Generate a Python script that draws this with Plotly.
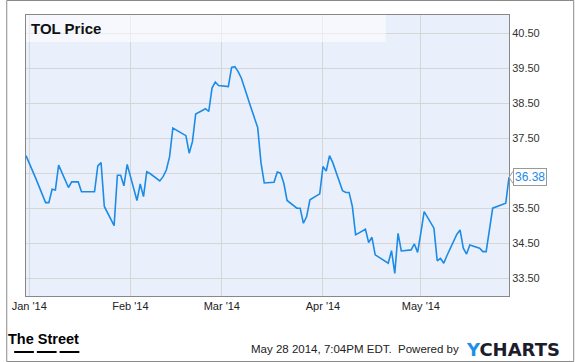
import plotly.graph_objects as go

dates = [
    "2013-12-31", "2014-01-02", "2014-01-03", "2014-01-06", "2014-01-07", "2014-01-08", "2014-01-09", "2014-01-10",
    "2014-01-13", "2014-01-14", "2014-01-15", "2014-01-16", "2014-01-17",
    "2014-01-21", "2014-01-22", "2014-01-23", "2014-01-24",
    "2014-01-27", "2014-01-28", "2014-01-29", "2014-01-30", "2014-01-31",
    "2014-02-03", "2014-02-04", "2014-02-05", "2014-02-06", "2014-02-07",
    "2014-02-10", "2014-02-11", "2014-02-12", "2014-02-13", "2014-02-14",
    "2014-02-18", "2014-02-19", "2014-02-20", "2014-02-21",
    "2014-02-24", "2014-02-25", "2014-02-26", "2014-02-27", "2014-02-28",
    "2014-03-03", "2014-03-04", "2014-03-05", "2014-03-06", "2014-03-07",
    "2014-03-10", "2014-03-11", "2014-03-12", "2014-03-13", "2014-03-14",
    "2014-03-17", "2014-03-18", "2014-03-19", "2014-03-20", "2014-03-21",
    "2014-03-24", "2014-03-25", "2014-03-26", "2014-03-27", "2014-03-28",
    "2014-03-31", "2014-04-01", "2014-04-02", "2014-04-03", "2014-04-04",
    "2014-04-07", "2014-04-08", "2014-04-09", "2014-04-10", "2014-04-11",
    "2014-04-14", "2014-04-15", "2014-04-16", "2014-04-17",
    "2014-04-21", "2014-04-22", "2014-04-23", "2014-04-24", "2014-04-25",
    "2014-04-28", "2014-04-29", "2014-04-30", "2014-05-01", "2014-05-02",
    "2014-05-05", "2014-05-06", "2014-05-07", "2014-05-08", "2014-05-09",
    "2014-05-12", "2014-05-13", "2014-05-14", "2014-05-15", "2014-05-16",
    "2014-05-19", "2014-05-20", "2014-05-21", "2014-05-22", "2014-05-23",
    "2014-05-27", "2014-05-28",
]
prices = [
    37.00, 36.59, 36.35, 35.66, 35.66, 36.04, 36.02, 36.73,
    36.09, 36.25, 36.25, 36.25, 35.97,
    35.97, 36.71, 36.80, 35.55,
    35.00, 36.44, 36.44, 36.14, 36.75,
    35.72, 36.19, 35.83, 36.54, 36.49,
    36.28, 36.40, 36.59, 36.97, 37.79,
    37.57, 37.07, 37.40, 38.19,
    38.34, 38.26, 38.93, 39.10, 39.00,
    38.97, 39.52, 39.54, 39.40, 39.21,
    38.35, 38.10, 37.80, 36.80, 36.22,
    36.24, 36.53, 36.50, 36.21, 35.72,
    35.50, 35.50, 35.07, 35.26, 35.74,
    35.91, 36.69, 36.56, 37.00, 36.80,
    36.00, 35.95, 35.95, 35.55, 34.74,
    34.90, 34.52, 34.67, 34.17,
    33.93, 34.29, 33.64, 34.78, 34.28,
    34.31, 34.48, 34.24, 34.80, 35.40,
    34.93, 34.00, 34.07, 33.93, 34.15,
    34.75, 34.88, 34.36, 34.19, 34.45,
    34.36, 34.26, 34.26, 34.85, 35.50,
    35.64, 36.38,
]

y_ticks = [33.5, 34.5, 35.5, 36.5, 37.5, 38.5, 39.5, 40.5]
y_tick_labels = ["33.50", "34.50", "35.50", "", "37.50", "38.50", "39.50", "40.50"]
x_ticks = ["2014-01-01", "2014-02-01", "2014-03-01", "2014-04-01", "2014-05-01"]
x_tick_labels = ["Jan '14", "Feb '14", "Mar '14", "Apr '14", "May '14"]
title_text = "TOL Price"
last_label = "36.38"

LINE = "#1b8be6"
GRID = "#d6d6d6"
PW, PH = 489, 281  # plot area size in px

fig = go.Figure()
fig.add_trace(go.Scatter(
    x=dates, y=prices, mode="lines",
    line=dict(color=LINE, width=1.6),
    hoverinfo="skip", showlegend=False,
))

fig.update_layout(
    width=575, height=362,
    margin=dict(l=20, r=66, t=15, b=66),
    paper_bgcolor="white",
    plot_bgcolor="#eaf0fb",
    font=dict(family="Liberation Sans, Arial, sans-serif", size=11, color="#333333"),
    xaxis=dict(
        type="date",
        range=["2013-12-31", "2014-05-28"],
        tickvals=x_ticks, ticktext=x_tick_labels,
        showgrid=True, gridcolor=GRID, gridwidth=1,
        showline=True, linecolor="#888888", linewidth=1, mirror=True,
        ticks="", tickfont=dict(size=11, color="#222222"),
        zeroline=False, fixedrange=True,
    ),
    yaxis=dict(
        range=[32.994, 41.014],
        side="right",
        tickvals=y_ticks, ticktext=y_tick_labels,
        showgrid=True, gridcolor=GRID, gridwidth=1,
        showline=True, linecolor="#888888", linewidth=1, mirror=True,
        ticks="", tickfont=dict(size=11, color="#333333"),
        zeroline=False, fixedrange=True,
    ),
    shapes=[
        # lighter title band
        dict(type="rect", xref="paper", yref="paper", x0=0, x1=0.745, y0=0.904, y1=1,
             fillcolor="rgba(255,255,255,0.55)", line=dict(width=0), layer="above"),
        # outer frame
        dict(type="rect", xref="paper", yref="paper",
             x0=-19.5 / PW, x1=1 + 65.5 / PW, y0=-65.5 / PH, y1=1 + 14.5 / PH,
             line=dict(color="#8a8a8a", width=1), fillcolor="rgba(0,0,0,0)"),
        # "The Street" underline bars
        dict(type="rect", xref="paper", yref="paper", x0=-12 / PW, x1=8 / PW,
             y0=-57 / PH, y1=-55 / PH, fillcolor="black", line=dict(width=0)),
        dict(type="rect", xref="paper", yref="paper", x0=11 / PW, x1=31 / PW,
             y0=-57 / PH, y1=-55 / PH, fillcolor="black", line=dict(width=0)),
        dict(type="rect", xref="paper", yref="paper", x0=34 / PW, x1=54 / PW,
             y0=-57 / PH, y1=-55 / PH, fillcolor="black", line=dict(width=0)),
        # pointer of last value label
        dict(type="path", xref="paper", yref="y", xsizemode="pixel", ysizemode="pixel",
             xanchor=1, yanchor=prices[-1],
             path="M 4 -6 L 0 0 L 4 6", line=dict(color="#999999", width=1)),
    ],
    annotations=[
        dict(text="<b>" + title_text + "</b>", xref="paper", yref="paper",
             x=3 / PW, y=1 - 14 / PH, xanchor="left", yanchor="middle",
             showarrow=False, font=dict(size=15, color="#111111",
                                        family="Liberation Sans, Arial, sans-serif")),
        dict(text=last_label, xref="paper", yref="y", x=1 + 4 / PW, y=prices[-1],
             xanchor="left", yanchor="middle", showarrow=False,
             font=dict(size=12, color=LINE), bgcolor="white",
             bordercolor="#999999", borderwidth=1, borderpad=1),
        dict(text="<b>The Street</b>", xref="paper", yref="paper",
             x=-20 / PW, y=-43 / PH, xanchor="left", yanchor="middle",
             showarrow=False,
             font=dict(size=14.5, color="#000000",
                       family="Liberation Sans, Arial, sans-serif")),
        dict(text="May 28 2014, 7:04PM EDT.  Powered by", xref="paper", yref="paper",
             x=440 / PW, y=-53 / PH, xanchor="right", yanchor="middle",
             showarrow=False, font=dict(size=11.5, color="#222222")),
        dict(text="<b><span style='color:#1e8fe6'>Y</span>CHARTS</b>", xref="paper", yref="paper",
             x=443 / PW, y=-53 / PH, xanchor="left", yanchor="middle",
             showarrow=False,
             font=dict(size=18, color="#1c1c2c", family="DejaVu Sans, Liberation Sans, sans-serif")),
    ],
)

fig.write_html("out.html")
